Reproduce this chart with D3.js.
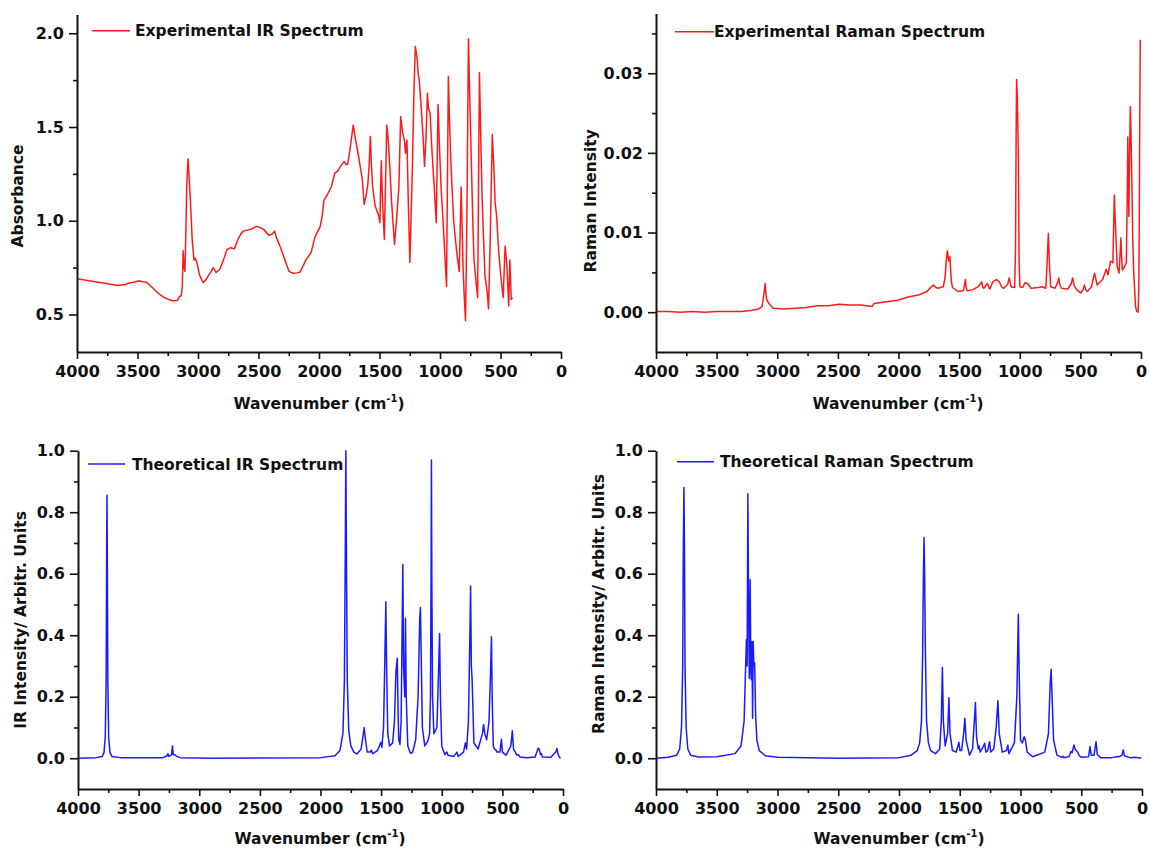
<!DOCTYPE html>
<html><head><meta charset="utf-8">
<script src="https://cdn.jsdelivr.net/npm/d3@7"></script>
<style>
body{margin:0;background:#fff}
svg{display:block}
text{font-family:"DejaVu Sans",Verdana,sans-serif;font-weight:bold;fill:#111}
.domain{stroke:#111;stroke-width:2}
.tick line{stroke:#111;stroke-width:1.6}
</style>
</head><body>
<svg id="c" width="1150" height="849"></svg>
<script>
// ---------------- data ----------------
const xTickValues = [4000,3500,3000,2500,2000,1500,1000,500,0];
const xMinorValues = [3750,3250,2750,2250,1750,1250,750,250];
const irYTicks = [0.5,1.0,1.5,2.0];
const irYMinor = [0.75,1.25,1.75];
const ramanYTicks = [0.00,0.01,0.02,0.03];
const ramanYMinor = [0.005,0.015,0.025,0.035];
const theoYTicks = [0.0,0.2,0.4,0.6,0.8,1.0];
const theoYMinor = [0.1,0.3,0.5,0.7,0.9];
const legendNames = ["Experimental IR Spectrum","Experimental Raman Spectrum","Theoretical IR Spectrum","Theoretical Raman Spectrum"];
const yTitles = ["Absorbance","Raman Intensity","IR Intensity/ Arbitr. Units","Raman Intensity/ Arbitr. Units"];

// [wavenumber, absorbance]
const expIR = [[4000,0.691],[3900,0.68],[3850,0.675],[3758,0.665],[3667,0.655],[3600,0.66],[3577,0.667],[3530,0.672],[3486,0.68],[3460,0.675],[3425,0.672],[3380,0.645],[3335,0.617],[3280,0.59],[3214,0.573],[3169,0.575],[3154,0.596],[3138,0.6],[3130,0.65],[3123,0.84],[3115,0.75],[3108,0.73],[3100,0.95],[3093,1.18],[3085,1.3],[3081,1.33],[3075,1.25],[3063,1.11],[3048,0.9],[3033,0.79],[3022,0.8],[3011,0.78],[3000,0.75],[2987,0.71],[2957,0.67],[2935,0.685],[2912,0.71],[2890,0.73],[2875,0.75],[2860,0.735],[2851,0.724],[2821,0.74],[2790,0.79],[2760,0.847],[2730,0.856],[2700,0.85],[2670,0.9],[2645,0.93],[2624,0.945],[2590,0.95],[2564,0.954],[2518,0.97],[2490,0.965],[2458,0.954],[2413,0.922],[2385,0.93],[2367,0.945],[2352,0.91],[2320,0.86],[2292,0.81],[2265,0.76],[2247,0.73],[2216,0.72],[2180,0.722],[2156,0.727],[2130,0.76],[2110,0.79],[2065,0.83],[2035,0.91],[1990,0.97],[1975,1.02],[1959,1.11],[1930,1.14],[1899,1.18],[1869,1.255],[1845,1.265],[1823,1.29],[1800,1.31],[1793,1.317],[1775,1.3],[1763,1.3],[1740,1.4],[1717,1.51],[1700,1.44],[1672,1.34],[1642,1.22],[1627,1.087],[1612,1.13],[1597,1.19],[1585,1.3],[1576,1.45],[1567,1.3],[1557,1.18],[1536,1.08],[1506,1.025],[1497,0.99],[1485,1.32],[1475,1.1],[1460,0.9],[1450,1.2],[1440,1.51],[1430,1.45],[1415,1.29],[1400,1.1],[1376,0.874],[1360,1.0],[1340,1.18],[1325,1.556],[1309,1.47],[1294,1.43],[1285,1.36],[1273,1.43],[1262,1.1],[1249,0.777],[1228,1.29],[1215,1.7],[1204,1.93],[1188,1.86],[1180,1.78],[1173,1.76],[1158,1.63],[1140,1.45],[1128,1.29],[1115,1.45],[1104,1.68],[1095,1.6],[1082,1.575],[1067,1.38],[1045,1.15],[1031,0.99],[1016,1.62],[1005,1.4],[991,1.18],[975,1.0],[961,0.83],[946,0.65],[931,1.77],[920,1.5],[910,1.31],[895,1.1],[886,0.99],[860,0.82],[841,0.73],[825,1.18],[810,0.76],[800,0.6],[789,0.467],[778,1.0],[765,1.97],[752,1.6],[740,1.29],[729,1.0],[719,0.79],[700,0.66],[689,0.59],[674,1.79],[660,1.35],[650,1.08],[629,0.71],[610,0.62],[599,0.53],[585,0.9],[568,1.46],[553,1.255],[545,1.1],[532,1.025],[517,0.856],[500,0.72],[478,0.59],[462,0.865],[447,0.76],[432,0.545],[423,0.79],[411,0.58],[402,0.59]];

// [wavenumber, Raman intensity]
const expRaman = [[4000,0.0001],[3900,0.0001],[3800,0.0],[3700,0.0001],[3600,0.0],[3500,0.0001],[3400,0.0001],[3300,0.0001],[3215,0.0002],[3155,0.0004],[3125,0.0007],[3108,0.0025],[3100,0.0036],[3092,0.002],[3085,0.0015],[3064,0.001],[3034,0.0005],[2943,0.0004],[2853,0.0005],[2760,0.0006],[2672,0.0008],[2580,0.0008],[2491,0.001],[2400,0.0009],[2310,0.0009],[2219,0.0007],[2200,0.0011],[2100,0.0013],[2008,0.0015],[1920,0.0019],[1826,0.0022],[1766,0.0026],[1735,0.0031],[1712,0.0034],[1690,0.0031],[1675,0.003],[1630,0.0032],[1615,0.0045],[1606,0.0066],[1597,0.0077],[1590,0.0068],[1585,0.0064],[1576,0.007],[1565,0.004],[1555,0.0031],[1509,0.0026],[1464,0.0027],[1455,0.0035],[1449,0.0041],[1443,0.0032],[1434,0.0027],[1390,0.0028],[1343,0.0032],[1313,0.0038],[1305,0.0031],[1295,0.003],[1268,0.0036],[1247,0.0029],[1223,0.0038],[1192,0.0041],[1168,0.0038],[1150,0.0032],[1132,0.003],[1100,0.0035],[1087,0.0043],[1072,0.0032],[1042,0.0031],[1035,0.008],[1030,0.022],[1026,0.0292],[1020,0.027],[1011,0.019],[1005,0.006],[999,0.0032],[975,0.0031],[957,0.0037],[936,0.0036],[906,0.003],[845,0.0031],[815,0.0032],[785,0.003],[775,0.006],[764,0.0099],[755,0.006],[745,0.0032],[709,0.003],[685,0.0038],[679,0.0043],[670,0.0035],[655,0.003],[604,0.0029],[575,0.0036],[564,0.0043],[550,0.0033],[528,0.0028],[498,0.0024],[475,0.0029],[468,0.0034],[455,0.0028],[444,0.0026],[408,0.0032],[390,0.0045],[383,0.0049],[370,0.004],[362,0.0034],[317,0.0041],[287,0.0054],[272,0.0047],[251,0.0064],[232,0.0062],[224,0.012],[220,0.0147],[214,0.012],[208,0.0099],[196,0.0057],[181,0.0049],[170,0.008],[166,0.0093],[160,0.007],[154,0.0053],[136,0.0057],[121,0.0062],[113,0.015],[109,0.022],[104,0.016],[100,0.012],[94,0.02],[88,0.0258],[82,0.022],[75,0.0158],[68,0.009],[60,0.0049],[45,0.0007],[35,0.0001],[24,0.0],[18,0.003],[15,0.0099],[10,0.025],[6,0.0342]];

// [wavenumber, IR intensity]
const theoIR = [[4000,0],[3850,0.002],[3800,0.006],[3785,0.02],[3775,0.07],[3768,0.25],[3764,0.65],[3761,0.855],[3758,0.65],[3754,0.25],[3747,0.07],[3737,0.02],[3720,0.006],[3650,0.002],[3300,0.002],[3265,0.008],[3258,0.015],[3250,0.006],[3228,0.012],[3221,0.04],[3214,0.012],[3195,0.01],[3188,0.006],[3160,0.002],[2900,0],[2000,0.002],[1880,0.008],[1840,0.025],[1815,0.08],[1803,0.25],[1796,0.65],[1791,1.0],[1786,0.65],[1779,0.25],[1767,0.09],[1750,0.04],[1725,0.02],[1700,0.014],[1665,0.03],[1648,0.075],[1640,0.1],[1632,0.07],[1615,0.02],[1590,0.02],[1580,0.026],[1570,0.015],[1530,0.025],[1510,0.045],[1502,0.052],[1494,0.035],[1480,0.1],[1468,0.35],[1461,0.509],[1455,0.3],[1445,0.08],[1430,0.04],[1405,0.05],[1390,0.12],[1378,0.28],[1367,0.325],[1360,0.15],[1355,0.06],[1345,0.045],[1335,0.12],[1326,0.45],[1321,0.63],[1315,0.3],[1305,0.2],[1299,0.455],[1293,0.2],[1280,0.04],[1260,0.018],[1252,0.016],[1240,0.02],[1215,0.06],[1195,0.2],[1182,0.45],[1176,0.49],[1170,0.35],[1160,0.1],[1140,0.04],[1115,0.055],[1100,0.08],[1093,0.2],[1088,0.6],[1085,0.97],[1082,0.6],[1076,0.2],[1065,0.08],[1040,0.1],[1025,0.3],[1018,0.406],[1011,0.2],[1000,0.04],[975,0.012],[958,0.02],[948,0.01],[900,0.006],[875,0.02],[865,0.006],[820,0.02],[805,0.05],[795,0.03],[780,0.12],[768,0.4],[762,0.56],[756,0.3],[750,0.26],[744,0.18],[735,0.05],[700,0.03],[665,0.08],[655,0.11],[645,0.08],[630,0.06],[610,0.12],[596,0.3],[590,0.395],[584,0.2],[575,0.04],[565,0.03],[555,0.028],[545,0.02],[520,0.02],[508,0.062],[500,0.02],[470,0.01],[430,0.04],[418,0.089],[408,0.03],[380,0.01],[368,0.012],[355,0.004],[300,0.002],[230,0.004],[205,0.033],[197,0.03],[185,0.012],[178,0.015],[170,0.004],[100,0.003],[60,0.02],[50,0.032],[42,0.015],[30,0.003],[20,0]];

// [wavenumber, Raman intensity]
const theoRaman = [[4000,0],[3900,0.003],[3830,0.01],[3805,0.03],[3790,0.1],[3780,0.3],[3775,0.7],[3770,0.88],[3766,0.7],[3761,0.3],[3752,0.1],[3738,0.03],[3715,0.01],[3650,0.004],[3500,0.005],[3350,0.015],[3300,0.04],[3275,0.12],[3262,0.3],[3256,0.385],[3250,0.3],[3244,0.86],[3238,0.5],[3232,0.26],[3225,0.58],[3220,0.3],[3216,0.255],[3210,0.38],[3205,0.13],[3200,0.38],[3195,0.3],[3188,0.31],[3180,0.14],[3170,0.06],[3150,0.025],[3100,0.008],[3000,0.003],[2500,0],[2000,0.002],[1900,0.01],[1850,0.025],[1830,0.05],[1815,0.12],[1805,0.35],[1799,0.6],[1794,0.718],[1789,0.6],[1783,0.35],[1773,0.12],[1758,0.05],[1740,0.025],[1700,0.015],[1665,0.03],[1652,0.12],[1643,0.295],[1635,0.12],[1620,0.04],[1600,0.08],[1589,0.197],[1580,0.08],[1560,0.025],[1530,0.02],[1515,0.04],[1507,0.052],[1498,0.025],[1485,0.025],[1468,0.08],[1458,0.13],[1448,0.06],[1420,0.01],[1395,0.03],[1380,0.12],[1371,0.181],[1362,0.07],[1348,0.03],[1340,0.04],[1332,0.02],[1310,0.035],[1295,0.049],[1285,0.02],[1270,0.025],[1255,0.054],[1245,0.02],[1220,0.03],[1200,0.1],[1186,0.187],[1175,0.08],[1150,0.02],[1115,0.025],[1104,0.043],[1095,0.015],[1050,0.05],[1030,0.2],[1018,0.468],[1012,0.3],[1000,0.06],[985,0.05],[970,0.07],[960,0.06],[945,0.02],[900,0.005],[800,0.02],[770,0.08],[755,0.25],[748,0.289],[740,0.2],[728,0.06],[700,0.01],[660,0.003],[650,0.006],[640,0.002],[600,0.006],[585,0.022],[575,0.018],[560,0.043],[550,0.03],[530,0.02],[515,0.008],[500,0.003],[440,0.005],[428,0.038],[418,0.01],[395,0.01],[378,0.054],[368,0.012],[340,0.002],[250,0.002],[195,0.006],[185,0.005],[165,0.01],[155,0.027],[145,0.008],[100,0.002],[60,0.003],[20,0.001],[5,0.002]];

// ---------------- layout ----------------
const panels = [
  {data:expIR, color:"#ff1a1a", x0:77, x1:561, yb:352, yt:14.5, dom:[0.3,2.1], maj:irYTicks, min:irYMinor, fmt:".1f",
   name:legendNames[0], lx0:92, lx1:130, ly:30.7, tx:135, title:yTitles[0], ttx:17.6, tty:196, wx:319, wy:403},
  {data:expRaman, color:"#ff1a1a", x0:656, x1:1141, yb:352, yt:13.5, dom:[-0.005,0.0375], maj:ramanYTicks, min:ramanYMinor, fmt:".2f",
   name:legendNames[1], lx0:675, lx1:714, ly:31.7, tx:714, title:yTitles[1], ttx:590.4, tty:200.8, wx:898, wy:403},
  {data:theoIR, color:"#1a1aff", x0:78, x1:563, yb:789, yt:450.7, dom:[-0.1,1.0], maj:theoYTicks, min:theoYMinor, fmt:".1f",
   name:legendNames[2], lx0:88, lx1:125, ly:464, tx:132, title:yTitles[2], ttx:20.2, tty:620, wx:320, wy:838.5},
  {data:theoRaman, color:"#1a1aff", x0:656, x1:1142, yb:789, yt:450.7, dom:[-0.1,1.0], maj:theoYTicks, min:theoYMinor, fmt:".1f",
   name:legendNames[3], lx0:677, lx1:714, ly:461.7, tx:720, title:yTitles[3], ttx:598.8, tty:604, wx:899, wy:838.5}
];

const svg = d3.select("#c");

panels.forEach(p => {
  const x = d3.scaleLinear().domain([4000,0]).range([p.x0, p.x1]);
  const y = d3.scaleLinear().domain(p.dom).range([p.yb, p.yt]);
  const g = svg.append("g");

  // spectrum line
  g.append("path").datum(p.data)
    .attr("fill","none").attr("stroke",p.color).attr("stroke-width",1.5)
    .attr("stroke-linejoin","round")
    .attr("d", d3.line().x(d=>x(d[0])).y(d=>y(d[1])));

  // y axis minor
  g.append("g").attr("transform",`translate(${p.x0},0)`)
    .call(d3.axisLeft(y).tickValues(p.min).tickSize(4).tickSizeOuter(0).tickFormat(""))
    .call(a=>a.select(".domain").remove());
  // y axis major
  g.append("g").attr("transform",`translate(${p.x0},0)`)
    .call(d3.axisLeft(y).tickValues(p.maj).tickSize(8).tickPadding(5).tickSizeOuter(0).tickFormat(d3.format(p.fmt)))
    .call(a=>a.selectAll("text").attr("font-size",16));
  // x axis minor
  g.append("g").attr("transform",`translate(0,${p.yb})`)
    .call(d3.axisBottom(x).tickValues(xMinorValues).tickSize(4).tickSizeOuter(0).tickFormat(""))
    .call(a=>a.select(".domain").remove());
  // x axis major
  g.append("g").attr("transform",`translate(0,${p.yb})`)
    .call(d3.axisBottom(x).tickValues(xTickValues).tickSize(7).tickPadding(7).tickSizeOuter(0).tickFormat(d3.format("d")))
    .call(a=>a.selectAll("text").attr("font-size",16));

  // legend
  g.append("line").attr("x1",p.lx0).attr("x2",p.lx1).attr("y1",p.ly).attr("y2",p.ly)
    .attr("stroke",p.color).attr("stroke-width",1.5);
  g.append("text").attr("x",p.tx).attr("y",p.ly).attr("dy","0.36em")
    .attr("font-size",15.5).text(p.name);

  // y title
  g.append("text").attr("transform",`translate(${p.ttx},${p.tty}) rotate(-90)`)
    .attr("text-anchor","middle").attr("dy","0.36em").attr("font-size",15.5).text(p.title);

  // x title
  const t = g.append("text").attr("x",p.wx).attr("y",p.wy).attr("dy","0.36em")
    .attr("text-anchor","middle").attr("font-size",15.5);
  t.append("tspan").text("Wavenumber (cm");
  t.append("tspan").attr("font-size",10).attr("dy",-7).text("-1");
  t.append("tspan").attr("dy",7).text(")");
});
</script>
</body></html>
